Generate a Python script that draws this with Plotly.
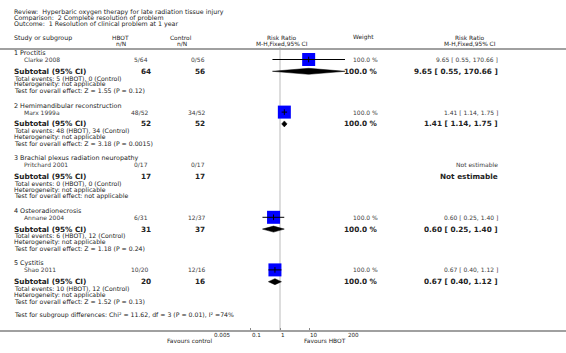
import numpy as np
import plotly.graph_objects as go

W, H = 566, 353

title_lines = ["Review:  Hyperbaric oxygen therapy for late radiation tissue injury",
               "Comparison:  2 Complete resolution of problem",
               "Outcome:  1 Resolution of clinical problem at 1 year"]

groups = ["1 Proctitis", "2 Hemimandibular reconstruction",
          "3 Brachial plexus radiation neuropathy", "4 Osteoradionecrosis", "5 Cystitis"]
studies = ["Clarke 2008", "Marx 1999a", "Pritchard 2001", "Annane 2004", "Shao 2011"]
hbot_events = [5, 48, 0, 6, 10]
hbot_total = [64, 52, 17, 31, 20]
ctrl_events = [0, 34, 0, 12, 12]
ctrl_total = [56, 52, 17, 37, 16]
rr = [9.65, 1.41, None, 0.60, 0.67]
rr_lo = [0.55, 1.14, None, 0.25, 0.40]
rr_hi = [170.66, 1.75, None, 1.40, 1.12]
weights = [100.0, 100.0, None, 100.0, 100.0]
overall_tests = ["Z = 1.55 (P = 0.12)", "Z = 3.18 (P = 0.0015)", "not applicable",
                 "Z = 1.18 (P = 0.24)", "Z = 1.52 (P = 0.13)"]
subgroup_test = "Test for subgroup differences: Chi² = 11.62, df = 3 (P = 0.01), I² =74%"
tick_vals = [0.005, 0.1, 1, 10, 200]
tick_text = ["0.005", "0.1", "1", "10", "200"]
favours = ["Favours control", "Favours HBOT"]

FONT = "DejaVu Sans"
TXT = "#222222"
STUDY_C = "#3a3a3a"
S_TITLE = 6.3
S_GROUP = 6.4
S_HEAD = 5.9
S_SMALL = 6.2
S_STUDY = 6.0
S_RR = 6.0
S_BOLD = 7.3

# layout positions (pixels)
X_NAME, X_STUDY = 13, 23
X_HBOT, X_HBOT_B = 148.5, 151.5
X_CTRL = 206
X_WEIGHT = 379
X_RR = 499
Y_AXIS = 331
Y_HEAD = 49

fig = go.Figure()
ann = []


def txt(x, y, s, anchor="left", size=S_SMALL, color=TXT, bold=False):
    ann.append(dict(x=x / W, y=y, xref="paper", yref="y", text=("<b>%s</b>" % s) if bold else s,
                    showarrow=False, xanchor=anchor, yanchor="middle", borderpad=0,
                    font=dict(family=FONT, size=size, color=color)))


for i, t in enumerate(title_lines):
    txt(13, 12.4 + 6.0 * i, t, size=S_TITLE)

# headers
txt(13, 38, "Study or subgroup", size=S_TITLE)
txt(120, 37.5, "HBOT", "center", S_HEAD)
txt(121, 43.5, "n/N", "center", S_HEAD)
txt(181, 37.5, "Control", "center", S_HEAD)
txt(182, 43.5, "n/N", "center", S_HEAD)
txt(282, 37.5, "Risk Ratio", "center", S_HEAD)
txt(282, 43.5, "M-H,Fixed,95% CI", "center", S_HEAD)
txt(363, 37.5, "Weight", "center", S_HEAD)
txt(470, 37.5, "Risk Ratio", "center", S_HEAD)
txt(470, 43.5, "M-H,Fixed,95% CI", "center", S_HEAD)

study_y = []
sub_y = []
for g in range(len(groups)):
    base = 53 + 52.6 * g
    ys, yt = base + 6.5, base + 18.3
    study_y.append(ys)
    sub_y.append(yt)
    txt(X_NAME, base, groups[g], size=S_GROUP)
    txt(X_STUDY, ys, studies[g], size=S_STUDY, color=STUDY_C)
    txt(X_HBOT, ys, "%d/%d" % (hbot_events[g], hbot_total[g]), "right", S_STUDY, STUDY_C)
    txt(X_CTRL, ys, "%d/%d" % (ctrl_events[g], ctrl_total[g]), "right", S_STUDY, STUDY_C)
    txt(X_NAME, yt, "Subtotal (95% CI)", size=S_BOLD, bold=True)
    txt(X_HBOT_B, yt, str(hbot_total[g]), "right", S_BOLD, bold=True)
    txt(X_CTRL, yt, str(ctrl_total[g]), "right", S_BOLD, bold=True)
    if rr[g] is not None:
        txt(X_WEIGHT, ys, "%.1f %%" % weights[g], "right", S_STUDY, STUDY_C)
        txt(X_WEIGHT, yt, "%.1f %%" % weights[g], "right", S_BOLD, bold=True)
        s = "%.2f [ %.2f, %.2f ]" % (rr[g], rr_lo[g], rr_hi[g])
        txt(X_RR, ys, s, "right", S_RR, STUDY_C)
        txt(X_RR, yt, s, "right", S_BOLD, bold=True)
    else:
        txt(X_RR, ys, "Not estimable", "right", S_RR, STUDY_C)
        txt(X_RR, yt, "Not estimable", "right", S_BOLD, bold=True)
    txt(X_NAME, base + 25.0, "Total events: %d (HBOT), %d (Control)" % (hbot_events[g], ctrl_events[g]))
    txt(X_NAME, base + 31.4, "Heterogeneity: not applicable")
    txt(X_NAME, base + 37.6, "Test for overall effect: " + overall_tests[g])

txt(X_NAME, 314.5, subgroup_test)

# tick labels and favours labels, placed through the log axis
for v, t in zip(tick_vals, tick_text):
    ann.append(dict(x=np.log10(v), y=334.6, xref="x", yref="y", text=t, showarrow=False,
                    xanchor="left", yanchor="middle", borderpad=0,
                    font=dict(family=FONT, size=5.6, color=TXT)))
for v, t in zip([tick_vals[0], tick_vals[-1]], favours):
    ann.append(dict(x=np.log10(v), y=341.2, xref="x", yref="y", text=t, showarrow=False,
                    xanchor="right", yanchor="middle", borderpad=0,
                    font=dict(family=FONT, size=S_HEAD, color=TXT)))

# null line at RR = 1
fig.add_trace(go.Scatter(x=[1, 1], y=[Y_HEAD - 2, Y_AXIS], mode="lines",
                         line=dict(color="#dddddd", width=2), hoverinfo="skip"))

# diamonds for subtotals
for g in range(len(groups)):
    if rr[g] is None:
        continue
    yt, h = sub_y[g], 3.0
    fig.add_trace(go.Scatter(x=[rr_lo[g], rr[g], rr_hi[g], rr[g], rr_lo[g]],
                             y=[yt, yt - h, yt, yt + h, yt], mode="lines", fill="toself",
                             fillcolor="black", line=dict(color="black", width=0.5),
                             hoverinfo="skip"))

# study squares
sx = [rr[g] for g in range(len(groups)) if rr[g] is not None]
sy = [study_y[g] for g in range(len(groups)) if rr[g] is not None]
fig.add_trace(go.Scatter(x=sx, y=sy, mode="markers",
                         marker=dict(symbol="square", size=13, color="#0000ff",
                                     line=dict(width=0)), hoverinfo="skip"))
# CI lines
for g in range(len(groups)):
    if rr[g] is None:
        continue
    fig.add_trace(go.Scatter(x=[rr_lo[g], rr_hi[g]], y=[study_y[g], study_y[g]], mode="lines",
                             line=dict(color="black", width=1), hoverinfo="skip"))
fig.add_trace(go.Scatter(x=sx, y=sy, mode="markers",
                         marker=dict(symbol="line-ns", size=4, line=dict(color="black", width=1)),
                         hoverinfo="skip"))

shapes = [
    dict(type="line", xref="paper", yref="y", x0=0, x1=1, y0=Y_HEAD, y1=Y_HEAD,
         line=dict(color="#a0a0a0", width=2)),
    dict(type="line", xref="paper", yref="y", x0=0, x1=1, y0=Y_AXIS, y1=Y_AXIS,
         line=dict(color="#a0a0a0", width=2)),
]

fig.update_layout(
    width=W, height=H, autosize=False,
    margin=dict(l=0, r=0, t=0, b=0),
    paper_bgcolor="white", plot_bgcolor="rgba(0,0,0,0)",
    showlegend=False,
    annotations=ann, shapes=shapes,
    xaxis=dict(type="log", range=[np.log10(tick_vals[0]), np.log10(tick_vals[-1])],
               domain=[213 / W, 347 / W], anchor="free", position=(H - Y_AXIS) / H,
               showgrid=False, zeroline=False, showline=False,
               tickvals=tick_vals, ticktext=tick_text, showticklabels=False,
               ticks="inside", ticklen=3, tickcolor="#888888", tickwidth=1),
    yaxis=dict(range=[H, 0], domain=[0, 1], visible=False, showgrid=False, zeroline=False),
)

fig.write_html("out.html", config={"displayModeBar": False},
               post_script="document.body.style.margin='0';document.body.style.padding='0';")
